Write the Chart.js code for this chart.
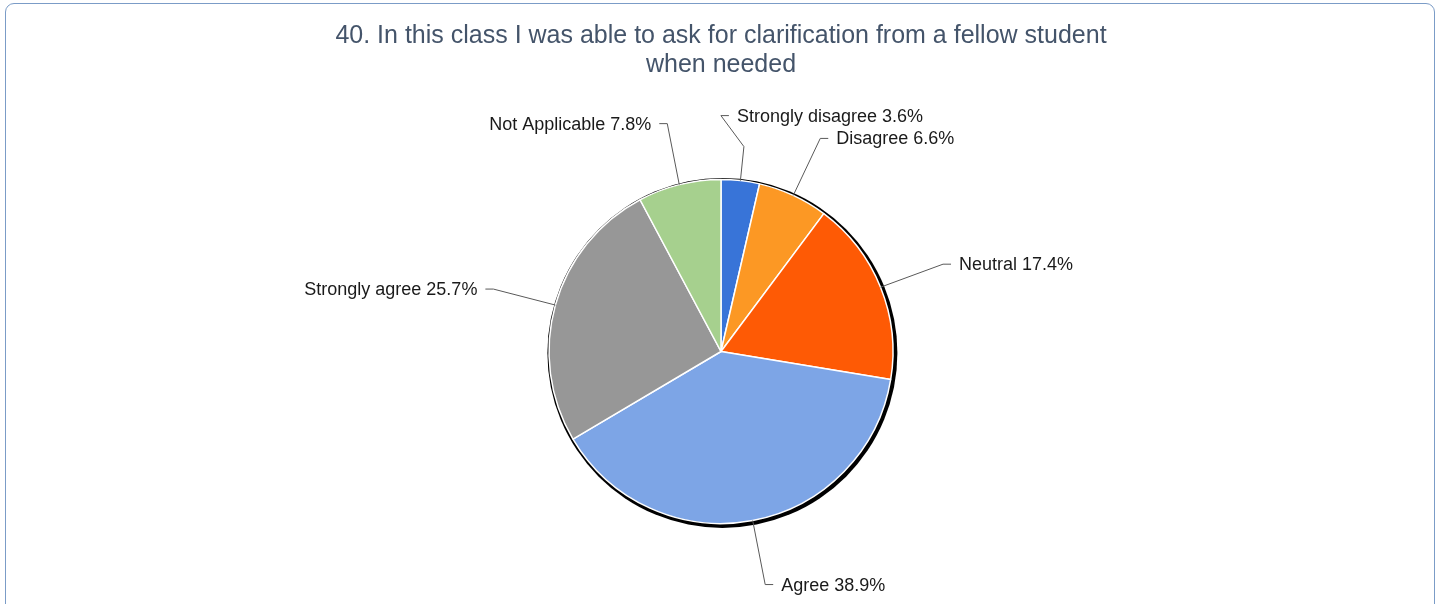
<!DOCTYPE html>
<html>
<head>
<meta charset="utf-8">
<script src="https://cdn.jsdelivr.net/npm/chart.js@4/dist/chart.umd.min.js"></script>
<style>
  body { margin: 0; background: #fff; overflow: hidden; }
  #frame {
    position: absolute; left: 5px; top: 3px; width: 1428px; height: 620px;
    border: 1px solid #7b9cc7; border-radius: 9px;
  }
  #wrap { position: absolute; left: 0; top: 0; width: 1437px; height: 604px; }
</style>
</head>
<body>
<div id="frame"></div>
<div id="wrap"><canvas id="pizza"></canvas></div>
<script>
const titleLines = ['40. In this class I was able to ask for clarification from a fellow student', 'when needed'];
const categories = ['Strongly disagree', 'Disagree', 'Neutral', 'Agree', 'Strongly agree', 'Not Applicable'];
const percents = [3.6, 6.6, 17.4, 38.9, 25.7, 7.8];
const colors = ['#3874d8', '#fc9824', '#fe5a05', '#7da5e6', '#979797', '#a6d08e'];

// caminho das linhas de chamada, relativo ao ponto da borda de cada fatia
const leaderPaths = [
  [[3.5, -34], [-19.5, -65]],
  [[27, -57]],
  [[62.5, -23]],
  [[12.5, 64]],
  [[-62, -16]],
  [[-12, -61]]
];

// sombra preta deslocada atras da pizza
const shadowPlugin = {
  id: 'shadow',
  beforeDatasetsDraw(chart) {
    const arc = chart.getDatasetMeta(0).data[0];
    if (!arc) return;
    const ctx = chart.ctx;
    ctx.save();
    ctx.fillStyle = '#000';
    ctx.beginPath();
    ctx.arc(arc.x + 1.4, arc.y + 1.4, arc.outerRadius + 3, 0, Math.PI * 2);
    ctx.fill();
    ctx.restore();
  }
};

// rotulos com linha de chamada
const labelPlugin = {
  id: 'leaderLabels',
  afterDatasetsDraw(chart) {
    const ctx = chart.ctx;
    const meta = chart.getDatasetMeta(0);
    ctx.save();
    ctx.font = '18px "Liberation Sans", Arial, sans-serif';
    ctx.textBaseline = 'middle';
    meta.data.forEach((arc, i) => {
      const a = (arc.startAngle + arc.endAngle) / 2;
      const ex = arc.x + Math.cos(a) * arc.outerRadius;
      const ey = arc.y + Math.sin(a) * arc.outerRadius;
      const pts = leaderPaths[i].map(p => [ex + p[0], ey + p[1]]);
      const last = pts[pts.length - 1];
      const side = Math.cos(a) >= 0 ? 1 : -1;
      const tickX = last[0] + side * 8;

      ctx.strokeStyle = '#595959';
      ctx.lineWidth = 1;
      ctx.beginPath();
      ctx.moveTo(ex, ey);
      pts.forEach(p => ctx.lineTo(p[0], p[1]));
      ctx.lineTo(tickX, last[1]);
      ctx.stroke();

      ctx.fillStyle = '#1a1a1a';
      ctx.textAlign = side > 0 ? 'left' : 'right';
      ctx.fillText(categories[i] + ' ' + percents[i].toFixed(1) + '%', tickX + side * 8, last[1] + 1);
    });
    ctx.restore();
  }
};

new Chart(document.getElementById('pizza'), {
  type: 'pie',
  data: {
    labels: categories,
    datasets: [{
      data: percents,
      backgroundColor: colors,
      borderColor: '#ffffff',
      borderWidth: 1.5,
      radius: 172
    }]
  },
  options: {
    responsive: true,
    maintainAspectRatio: false,
    animation: false,
    layout: { padding: { left: 5, right: 0, top: 0, bottom: 2 } },
    plugins: {
      legend: { display: false },
      tooltip: { enabled: false },
      title: {
        display: true,
        text: titleLines,
        color: '#44546a',
        font: { family: '"Liberation Sans", Arial, sans-serif', size: 25, weight: 'normal', lineHeight: 1.16 },
        padding: { top: 22, bottom: 21 }
      }
    }
  },
  plugins: [shadowPlugin, labelPlugin]
});
</script>
</body>
</html>
